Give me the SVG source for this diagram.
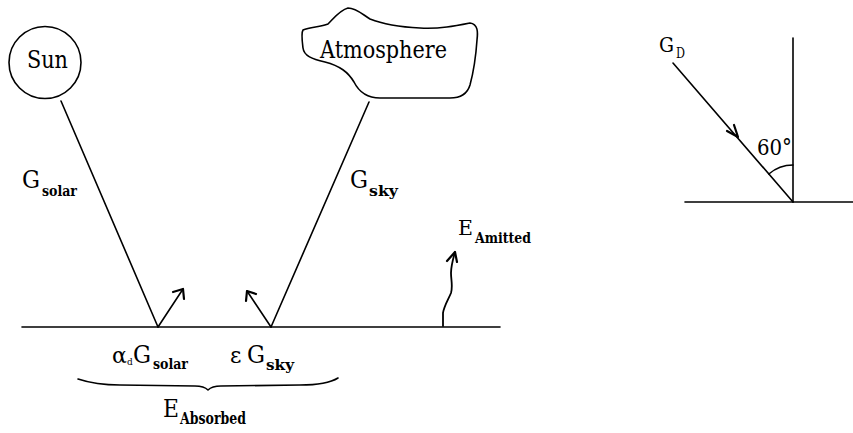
<svg xmlns="http://www.w3.org/2000/svg" width="853" height="433" viewBox="0 0 853 433">
<defs>
<style>
.ln{stroke:#000;stroke-width:1.6;fill:none;stroke-linecap:round;stroke-linejoin:round}
.ah{stroke:#000;stroke-width:2.2;fill:none;stroke-linecap:round;stroke-linejoin:round}
.m{font-size:24px}
.s{font-size:15px;font-weight:bold}
</style>
</defs>
<rect width="853" height="433" fill="#fff"/>
<g font-family="'DejaVu Serif', serif" fill="#000">
<g id="sun">
<circle class="ln" cx="45" cy="62.5" r="36"/>
<text class="m" x="27" y="68" textLength="41" lengthAdjust="spacingAndGlyphs">Sun</text>
</g>
<g id="atmosphere">
<path class="ln" d="M303,30 C310,27 320,27 328,24 C334,18 340,10 348,8 C356,8 362,14 370,19 C385,25 400,27 420,28 C440,29 455,26 470,23 C478,24 478,32 477,40 C476,55 474,70 470,85 C467,95 460,98 450,98 L380,98 C365,98 358,90 354,82 C348,72 340,66 325,62 C312,59 304,56 303,48 C302,40 301,33 303,30 Z"/>
<text class="m" x="320" y="58" textLength="127" lengthAdjust="spacingAndGlyphs">Atmosphere</text>
</g>
<g id="ground">
<line class="ln" x1="22" y1="327" x2="500" y2="327"/>
</g>
<g id="labels">
<text class="m" x="22" y="188" textLength="18" lengthAdjust="spacingAndGlyphs">G</text>
<text class="s" x="42" y="196" textLength="35" lengthAdjust="spacingAndGlyphs">solar</text>
<text class="m" x="350" y="188" textLength="18" lengthAdjust="spacingAndGlyphs">G</text>
<text class="s" x="369" y="196" textLength="29" lengthAdjust="spacingAndGlyphs">sky</text>
<text style="font-size:21px" x="458" y="235" textLength="15" lengthAdjust="spacingAndGlyphs">E</text>
<text class="s" x="475" y="243" textLength="56" lengthAdjust="spacingAndGlyphs">Amitted</text>
<text style="font-size:22px" x="112" y="363">α</text>
<text style="font-size:9px" x="127" y="365">d</text>
<text class="m" x="133" y="363" textLength="18" lengthAdjust="spacingAndGlyphs">G</text>
<text class="s" x="153" y="369" textLength="35" lengthAdjust="spacingAndGlyphs">solar</text>
<text style="font-size:22px" x="230" y="363">ε</text>
<text class="m" x="247" y="363" textLength="18" lengthAdjust="spacingAndGlyphs">G</text>
<text class="s" x="266" y="370" textLength="28" lengthAdjust="spacingAndGlyphs">sky</text>
<path class="ln" d="M78,379 C90,383 100,385 120,385 L195,386 C202,386 206,388 208,390 C210,388 214,386 221,386 L300,385 C320,385 330,383 338,378"/>
<text class="m" x="163" y="417" textLength="16" lengthAdjust="spacingAndGlyphs">E</text>
<text class="s" style="font-size:16px" x="180" y="424" textLength="66" lengthAdjust="spacingAndGlyphs">Absorbed</text>
</g>
<g id="connectors">
<line class="ln" x1="61" y1="101" x2="158" y2="327"/>
<line class="ln" x1="369" y1="102" x2="271" y2="327"/>
<line class="ln" x1="158" y1="327" x2="183" y2="289"/>
<polyline class="ah" points="173,292 183,289 184,299"/>
<line class="ln" x1="271" y1="327" x2="247" y2="291"/>
<polyline class="ah" points="246,301 247,291 256,294"/>
<path class="ah" style="stroke-width:1.8" d="M443,326 L443,313 C444,306 448,300 451,293 C453,286 451,280 451,273 C451,266 453,259 455,252"/>
<polyline class="ah" points="447,261 455,252 457,262"/>
</g>
<g id="angle-diagram">
<line class="ln" x1="793" y1="38" x2="793" y2="202"/>
<line class="ln" x1="685" y1="202" x2="853" y2="202"/>
<line class="ln" x1="673" y1="63" x2="793" y2="202"/>
<polyline class="ah" points="727,131 738,137 734,125"/>
<path class="ln" d="M768.8,174 A37,37 0 0 1 793,165"/>
<text style="font-size:23px" x="757" y="155" textLength="35" lengthAdjust="spacingAndGlyphs">60°</text>
<text style="font-size:20px" x="659" y="52" textLength="15" lengthAdjust="spacingAndGlyphs">G</text>
<text style="font-size:14px" x="676" y="58" textLength="9" lengthAdjust="spacingAndGlyphs">D</text>
</g>
</g>
</svg>
